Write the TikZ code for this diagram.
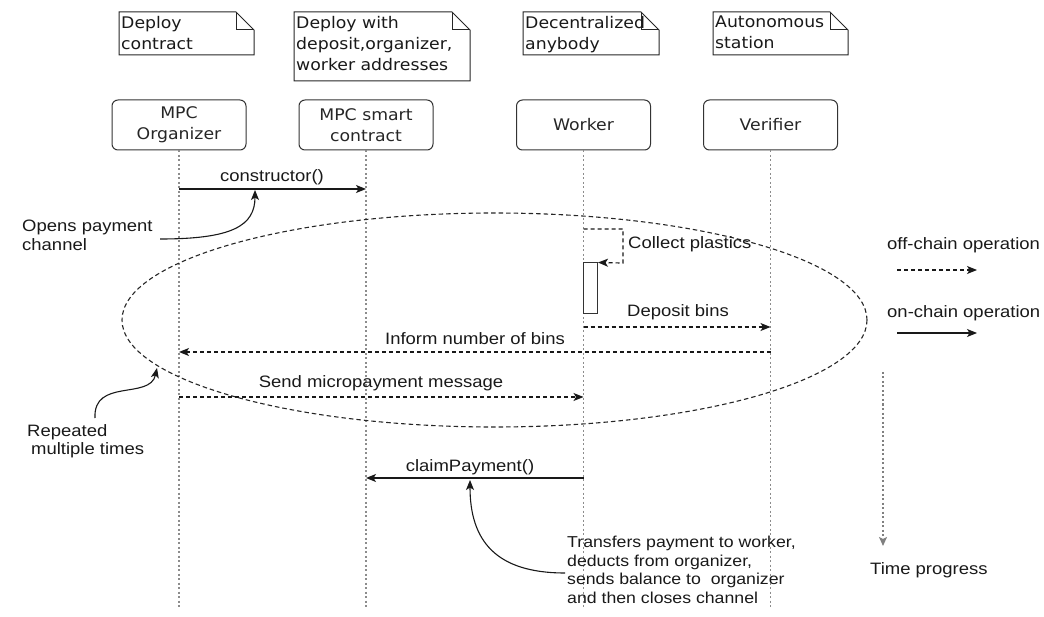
\documentclass[tikz,border=0pt]{standalone}
\usepackage{fontspec}
\usetikzlibrary{arrows.meta}
\newfontfamily\lblfamily{Liberation Sans}[FakeStretch=1.12]
\newfontfamily\boxfamily{DejaVu Sans}[FakeStretch=1.08]
\newcommand\lblfont{\lblfamily\fontsize{16.5}{18.5}\selectfont}
\newcommand\smlblfont{\lblfamily\fontsize{15.8}{18.5}\selectfont}
\newcommand\boxfont{\boxfamily\fontsize{16}{21}\selectfont}
\tikzset{
  lifebox/.style={draw=black!80, line width=1pt, rounded corners=6pt, minimum width=134pt,
    minimum height=50pt, align=center, font=\boxfont, inner sep=0pt, text=black!85},
  lifeln/.style={draw=black!45, line width=1.6pt, dash pattern=on 2pt off 2.5pt},
  onmsg/.style={draw=black!90, line width=1.2pt, -{Stealth[length=10pt,width=8pt,inset=2.5pt]}},
  offmsg/.style={onmsg, dash pattern=on 4pt off 3pt},
  lbl/.style={font=\lblfont, inner sep=0pt, text=black!90},
  notebox/.style={draw=black!85, line width=1pt},
  notetxt/.style={anchor=north west, align=left, inner sep=0pt, font=\boxfont, text=black!90},
  actbox/.style={draw=black!80, line width=1pt, fill=white, minimum width=14pt, minimum height=51pt, inner sep=0pt},
  crv/.style={draw=black!90, line width=1.1pt, -{Stealth[length=10pt,width=8pt,inset=2.5pt]}},
}
\begin{document}
\begin{tikzpicture}[x=1pt,y=-1pt]
\useasboundingbox (0,0) rectangle (1044,617);

% notes
\draw[notebox] (119,12) -- (236,12) -- (254,30) -- (254,55) -- (119,55) -- cycle;
\draw[notebox] (236,12) -- (236,30) -- (254,30);
\node[notetxt] (n1) at (121,16) {Deploy\\contract};
\draw[notebox] (294,12) -- (452,12) -- (470,30) -- (470,81) -- (294,81) -- cycle;
\draw[notebox] (452,12) -- (452,30) -- (470,30);
\node[notetxt] (n2) at (296,16) {Deploy with\\deposit,organizer,\\worker addresses};
\draw[notebox] (523,12) -- (641,12) -- (659,30) -- (659,55) -- (523,55) -- cycle;
\draw[notebox] (641,12) -- (641,30) -- (659,30);
\node[notetxt] (n3) at (525,16) {Decentralized\\anybody};
\draw[notebox] (713,12) -- (830,12) -- (848,30) -- (848,55) -- (713,55) -- cycle;
\draw[notebox] (830,12) -- (830,30) -- (848,30);
\node[notetxt] (n4) at (715,16) {Autonomous\\station};

% lifeline heads
\node[lifebox] (org) at (179,125) {MPC\\Organizer};
\node[lifebox] (smc) at (366,125) {MPC smart\\contract};
\node[lifebox] (wrk) at (583.5,125) {Worker};
\node[lifebox] (ver) at (770.5,125) {Verifier};

% lifelines
\coordinate (orgE) at (179,607);
\coordinate (smcE) at (366,607);
\coordinate (wrkE) at (583.5,607);
\coordinate (verE) at (770.5,607);
\draw[lifeln] (org.south) -- (orgE);
\draw[lifeln] (smc.south) -- (smcE);
\draw[lifeln] (wrk.south) -- (wrkE);
\draw[lifeln] (ver.south) -- (verE);

% loop ellipse
\draw[draw=black!85, line width=1.1pt, dash pattern=on 4.5pt off 3pt] (494.5,320) ellipse [x radius=372.5, y radius=107];

% constructor
\coordinate (o1) at (179,189);
\coordinate (s1) at (366,189);
\draw[onmsg] (o1) -- (s1);
\node[lbl, anchor=base] (l1) at (272,182) {constructor()};

% collect plastics
\node[actbox] (act) at (590.5,288.5) {};
\coordinate (w1) at (583.5,229);
\coordinate (w2) at (623,263);
\draw[offmsg] (w1) -| (w2) -- (act.north east);
\node[lbl, anchor=base west] (l2) at (628,249) {Collect plastics};

% deposit bins
\coordinate (w3) at (583.5,327);
\coordinate (v3) at (770.5,327);
\draw[offmsg] (w3) -- (v3);
\node[lbl, anchor=base] (l3) at (678,317) {Deposit bins};

% inform number of bins
\coordinate (v4) at (770.5,352);
\coordinate (o4) at (179,352);
\draw[offmsg] (v4) -- (o4);
\node[lbl, anchor=base] (l4) at (475,345) {Inform number of bins};

% send micropayment
\coordinate (o5) at (179,397);
\coordinate (w5) at (583.5,397);
\draw[offmsg] (o5) -- (w5);
\node[lbl, anchor=base] (l5) at (381,388) {Send micropayment message};

% claimPayment
\coordinate (w6) at (583.5,478);
\coordinate (s6) at (366,478);
\draw[onmsg] (w6) -- (s6);
\node[lbl, anchor=base] (l6) at (470,471) {claimPayment()};

% annotations
\node[lbl, anchor=north west, align=left] (t1) at (22,220) {Opens payment\\channel};
\coordinate (t1a) at (160,239);
\coordinate (t1b) at (255,190);
\draw[crv] (t1a) .. controls (232,239) and (255,226) .. (t1b);

\node[lbl, anchor=north west, align=left] (t2) at (27,424) {Repeated\\\hspace{4pt}multiple times};
\coordinate (t2a) at (95,418);
\coordinate (t2b) at (157,368);
\draw[crv] (t2a) .. controls (93,378) and (150,400) .. (t2b);

\node[lbl, font=\smlblfont, anchor=north west, align=left] (t3) at (567,536) {Transfers payment to worker,\\deducts from organizer,\\sends balance to\ \ organizer\\and then closes channel};
\coordinate (t3a) at (565,573);
\coordinate (t3b) at (470,480);
\draw[crv] (t3a) .. controls (495,573) and (470,540) .. (t3b);

% legend
\node[lbl, anchor=base west] (g1) at (887,250) {off-chain operation};
\coordinate (g1a) at (897,270);
\coordinate (g1b) at (977,270);
\draw[offmsg] (g1a) -- (g1b);
\node[lbl, anchor=base west] (g2) at (887,318) {on-chain operation};
\coordinate (g2a) at (897,333);
\coordinate (g2b) at (977,333);
\draw[onmsg] (g2a) -- (g2b);

% time progress
\coordinate (tp1) at (883,372);
\coordinate (tp2) at (883,546);
\draw[draw=black!50, line width=1.6pt, dash pattern=on 2pt off 2.5pt, -{Stealth[length=9pt,width=8pt,inset=2pt]}] (tp1) -- (tp2);
\node[lbl, anchor=base west] (g3) at (870,574) {Time progress};
\end{tikzpicture}
\end{document}
